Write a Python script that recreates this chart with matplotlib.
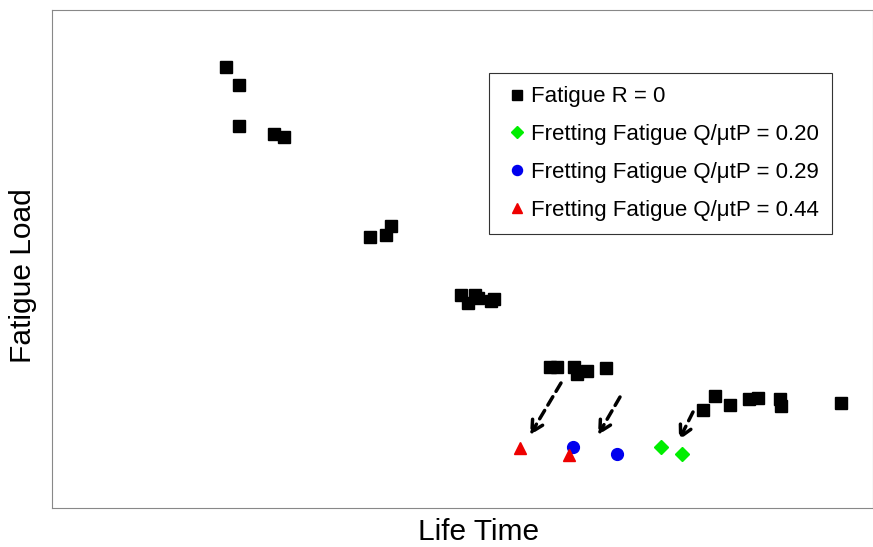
import matplotlib.pyplot as plt

plt.rcParams['font.family'] = ['Liberation Sans', 'DejaVu Sans']

# values (arbitrary units, no ticks on the original)
fat_x = [226, 239, 239, 274, 284, 370, 386, 391, 461, 468, 475, 478, 491, 494,
         550, 557, 574, 577, 587, 606, 703, 715, 730, 749, 758, 780, 781, 841]
fat_y = [480, 462, 421, 413, 410, 310, 312, 321, 252, 244, 252, 249, 246, 248,
         180, 180, 180, 173, 176, 179, 137, 151, 142, 148, 149, 148, 141, 144]

ff20_x = [661, 682]
ff20_y = [100, 93]
ff29_x = [573, 617]
ff29_y = [100, 93]
ff44_x = [520, 569]
ff44_y = [99, 92]

# dashed arrows: (start x, start y, end x, end y)
arrows = [(561, 164, 530, 112),
          (620, 150, 598, 112),
          (693, 135, 679, 107)]

fig = plt.figure(figsize=(8.73, 5.47), dpi=100)
ax = fig.add_axes([52 / 873, 39 / 547, 821 / 873, 498 / 547])

ax.plot(fat_x, fat_y, 's', color='black', markersize=8, label='Fatigue R = 0')
ax.plot(ff20_x, ff20_y, 'D', color='#00ee00', markersize=7,
        label='Fretting Fatigue Q/\u03bctP = 0.20')
ax.plot(ff29_x, ff29_y, 'o', color='#0000ee', markersize=8.5,
        label='Fretting Fatigue Q/\u03bctP = 0.29')
ax.plot(ff44_x, ff44_y, '^', color='#ee0000', markersize=9,
        label='Fretting Fatigue Q/\u03bctP = 0.44')

for x0, y0, x1, y1 in arrows:
    ax.annotate('', xy=(x1, y1), xytext=(x0, y0),
                arrowprops=dict(arrowstyle='->,head_length=0.8,head_width=0.42',
                                linestyle=(0, (2.8, 1.8)), lw=2.5, color='black',
                                shrinkA=0, shrinkB=0))

ax.set_xlim(52, 873)
ax.set_ylim(39, 537)
ax.set_xticks([])
ax.set_yticks([])
for s in ax.spines.values():
    s.set_color('#888888')
    s.set_linewidth(0.8)

ax.set_xlabel('Life Time', fontsize=21.5)
ax.set_ylabel('Fatigue Load', fontsize=21.5)
ax.xaxis.set_label_coords(0.519, -0.048)
ax.yaxis.set_label_coords(-0.0355, 0.467)
ax.xaxis.label.set_va('center')
ax.yaxis.label.set_va('center')

leg = ax.legend(loc='upper left', bbox_to_anchor=(437 / 821, 1 - 63 / 498),
                fontsize=16, markerscale=0.85, handlelength=1.3,
                handletextpad=0.0, labelspacing=0.76, borderpad=0.6,
                borderaxespad=0, fancybox=False, framealpha=1,
                edgecolor='#333333')
leg.get_frame().set_linewidth(0.8)

fig.savefig('out.png', dpi=100)
